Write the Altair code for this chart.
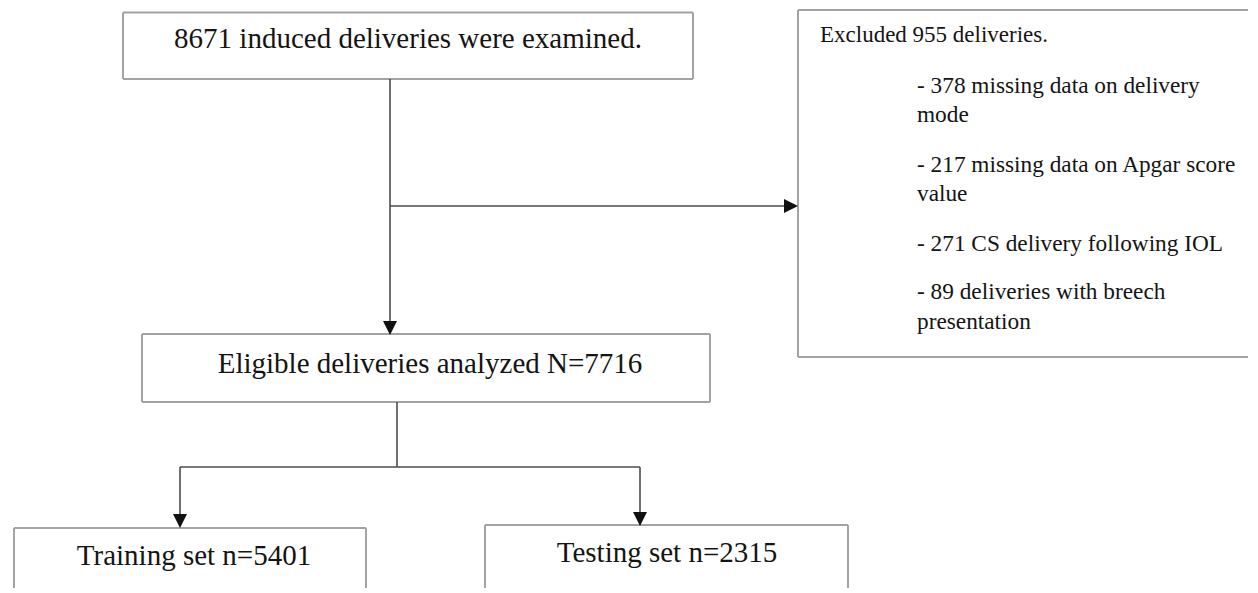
import altair as alt
import pandas as pd

# ---- content (numbers and labels) ----
examined_total = 8671
excluded_total = 955
exclusion_counts = [378, 217, 271, 89]
exclusion_lines = [
    ["missing data on delivery", "mode"],
    ["missing data on Apgar score", "value"],
    ["CS delivery following IOL"],
    ["deliveries with breech", "presentation"],
]
eligible_total = 7716
split_names = ["Training set", "Testing set"]
split_counts = [5401, 2315]

# ---- layout (reference pixel coordinates) ----
X0, X1 = 8, 1248
Y0, Y1 = 8, 588
W, H = X1 - X0, Y1 - Y0

boxes = [
    (123, 12.5, 693, 79),     # examined
    (798, 10, 1270, 357),     # excluded
    (142, 334, 710, 402),     # eligible
    (14, 528, 366, 620),      # training
    (485, 525, 848, 620),     # testing
]
edge_rows = []
for (bx0, by0, bx1, by1) in boxes:
    edge_rows += [
        dict(x=bx0, y=by0, x2=bx1, y2=by0),
        dict(x=bx0, y=by1, x2=bx1, y2=by1),
        dict(x=bx0, y=by0, x2=bx0, y2=by1),
        dict(x=bx1, y=by0, x2=bx1, y2=by1),
    ]
edges = pd.DataFrame(edge_rows)

connectors = pd.DataFrame([
    dict(x=390, y=79, x2=390, y2=324),
    dict(x=390, y=206, x2=787, y2=206),
    dict(x=397, y=402, x2=397, y2=467),
    dict(x=180, y=467, x2=640, y2=467),
    dict(x=180, y=467, x2=180, y2=517),
    dict(x=640, y=467, x2=640, y2=515),
])

arrows_down = pd.DataFrame([
    dict(x=390, y=335 - 7),
    dict(x=180, y=528 - 7),
    dict(x=640, y=526 - 7),
])
arrows_right = pd.DataFrame([dict(x=798 - 7, y=206)])

center_text = pd.DataFrame([
    dict(x=408, y=48, t=f"{examined_total} induced deliveries were examined.", fs=29),
    dict(x=430, y=373, t=f"Eligible deliveries analyzed N={eligible_total}", fs=29),
    dict(x=194, y=565, t=f"{split_names[0]} n={split_counts[0]}", fs=29),
    dict(x=667, y=562, t=f"{split_names[1]} n={split_counts[1]}", fs=29),
])

excl_baselines = [[93, 122], [172, 201], [251], [299, 329]]
left_rows = [dict(x=820, y=42, t=f"Excluded {excluded_total} deliveries.", fs=23)]
for cnt, lines, bls in zip(exclusion_counts, exclusion_lines, excl_baselines):
    for i, (ln, bl) in enumerate(zip(lines, bls)):
        txt = f"- {cnt} {ln}" if i == 0 else ln
        left_rows.append(dict(x=917, y=bl, t=txt, fs=23.3))
left_text = pd.DataFrame(left_rows)

xs = alt.Scale(domain=[X0, X1], nice=False, zero=False)
ys = alt.Scale(domain=[Y0, Y1], nice=False, zero=False, reverse=True)

def seg_layer(df, color, width):
    return alt.Chart(df).mark_rule(color=color, strokeWidth=width, clip=True).encode(
        x=alt.X("x:Q", scale=xs, axis=None),
        y=alt.Y("y:Q", scale=ys, axis=None),
        x2="x2:Q",
        y2="y2:Q",
    )

def arrow_layer(df, shape):
    return alt.Chart(df).mark_point(shape=shape, filled=True, color="#111111",
                                    opacity=1, size=196, strokeWidth=0).encode(
        x=alt.X("x:Q", scale=xs, axis=None),
        y=alt.Y("y:Q", scale=ys, axis=None),
    )

def text_layer(df, align):
    return alt.Chart(df).mark_text(font="Liberation Serif", align=align,
                                   baseline="alphabetic", color="#141414").encode(
        x=alt.X("x:Q", scale=xs, axis=None),
        y=alt.Y("y:Q", scale=ys, axis=None),
        text="t:N",
        size=alt.Size("fs:Q", scale=None, legend=None),
    )

chart = alt.layer(
    seg_layer(edges, "#a3a3a3", 2),
    seg_layer(connectors, "#4d4d4d", 1.6),
    arrow_layer(arrows_down, "M-1,-1L1,-1L0,1Z"),
    arrow_layer(arrows_right, "M-1,-1L1,0L-1,1Z"),
    text_layer(center_text, "center"),
    text_layer(left_text, "left"),
).properties(
    width=W, height=H, padding=0,
    autosize=alt.AutoSizeParams(type="none"),
    background="white",
).configure_view(strokeWidth=0)

chart.save("out.html", embed_options={"renderer": "svg", "actions": False})
